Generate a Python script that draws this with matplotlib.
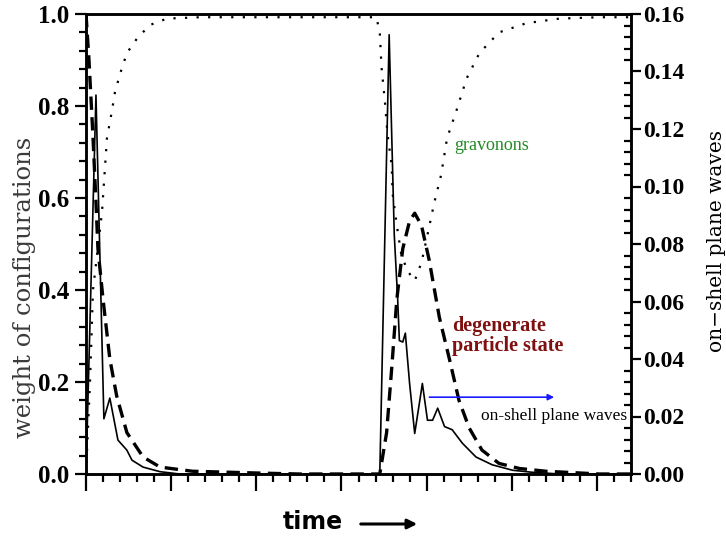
import numpy as np
import matplotlib
matplotlib.use("Agg")
import matplotlib.pyplot as plt
from matplotlib.ticker import MultipleLocator, FormatStrFormatter

# time axis (arbitrary units, one major tick per unit)
t_grav = [0.0, 0.047, 0.082, 0.188, 0.246, 0.305, 0.34, 0.40, 0.48, 0.60, 0.75, 0.95, 1.34,
          3.41, 3.45, 3.47, 3.51, 3.54, 3.59, 3.60, 3.65, 3.70, 3.77, 3.86, 3.94, 4.01, 4.09,
          4.17, 4.24, 4.35, 4.47, 4.62, 4.85, 5.17, 5.56, 6.03, 6.40]
gravonons = [0.0, 0.2, 0.4, 0.57, 0.73, 0.79, 0.83, 0.87, 0.915, 0.947, 0.976, 0.99, 0.993,
             0.993, 0.96, 0.885, 0.81, 0.74, 0.67, 0.61, 0.54, 0.48, 0.443, 0.42, 0.46, 0.52, 0.59,
             0.65, 0.73, 0.79, 0.86, 0.915, 0.96, 0.98, 0.99, 0.993, 0.993]

t_deg = [0.0, 0.035, 0.08, 0.115, 0.14, 0.20, 0.28, 0.36, 0.48, 0.67, 0.87, 1.25, 2.04, 2.5,
         3.45, 3.53, 3.59, 3.65, 3.72, 3.80, 3.86, 3.94, 4.03, 4.15, 4.27, 4.38, 4.50, 4.65,
         4.85, 5.09, 5.40, 6.03, 6.40]
degenerate = [1.0, 0.9, 0.74, 0.6, 0.49, 0.38, 0.25, 0.17, 0.09, 0.037, 0.015, 0.006, 0.002, 0.0,
              0.0, 0.09, 0.23, 0.38, 0.49, 0.55, 0.567, 0.54, 0.465, 0.34, 0.248, 0.16, 0.10, 0.052,
              0.023, 0.012, 0.006, 0.0, 0.0]

t_wave = [0.0, 0.117, 0.21, 0.28, 0.375, 0.48, 0.54, 0.67, 0.87, 1.1,
          3.45, 3.56, 3.62, 3.66, 3.68, 3.72, 3.75, 3.80, 3.86, 3.92, 3.95, 4.01, 4.07, 4.13,
          4.21, 4.30, 4.42, 4.58, 4.77, 5.01, 5.24, 5.56, 6.40]
plane_waves = [0.0, 0.1318, 0.0192, 0.0264, 0.0118, 0.0083, 0.0048, 0.0024, 0.0008, 0.0,
               0.0, 0.1528, 0.0832, 0.0608, 0.0464, 0.0459, 0.049, 0.0315, 0.0141, 0.0256, 0.0315,
               0.0187, 0.0187, 0.0229, 0.0165, 0.0154, 0.0107, 0.0059, 0.0032, 0.0013, 0.0006,
               0.0, 0.0]

W, H = 726, 541
fig = plt.figure(figsize=(W / 100, H / 100), dpi=100)
ax = fig.add_axes([86 / W, 67 / H, 545 / W, 460 / H])
ax2 = ax.twinx()

ax.plot(t_grav, gravonons, color='black', lw=1.6, linestyle=(0, (1, 4.2)))
ax.plot(t_deg, degenerate, color='black', lw=2.4, linestyle=(0, (4, 2.2)))
ax2.plot(t_wave, plane_waves, color='black', lw=1.2)

ax.set_xlim(0, 6.4)
ax.set_ylim(0, 1.0)
ax2.set_ylim(0, 0.16)

ax.xaxis.set_major_locator(MultipleLocator(1))
ax.xaxis.set_minor_locator(MultipleLocator(0.2))
ax.yaxis.set_major_locator(MultipleLocator(0.2))
ax.yaxis.set_minor_locator(MultipleLocator(0.04))
ax.yaxis.set_major_formatter(FormatStrFormatter('%.1f'))
ax2.yaxis.set_major_locator(MultipleLocator(0.02))
ax2.yaxis.set_minor_locator(MultipleLocator(0.004))
ax2.yaxis.set_major_formatter(FormatStrFormatter('%.2f'))

ax.tick_params(axis='x', which='major', direction='out', length=12, width=1.6, labelbottom=False)
ax.tick_params(axis='x', which='minor', direction='out', length=6, width=1.6)
ax.tick_params(axis='y', which='major', direction='out', length=8, width=1.6, pad=4, labelsize=18)
ax.tick_params(axis='y', which='minor', direction='out', length=5, width=1.6)
ax2.tick_params(axis='y', which='major', direction='out', length=7, width=1.6, pad=2, labelsize=17)
ax2.tick_params(axis='y', which='minor', direction='in', length=5, width=1.6)

for lbl in ax.get_yticklabels() + ax2.get_yticklabels():
    lbl.set_fontfamily('Liberation Serif')
    lbl.set_fontweight('bold')

for a in (ax, ax2):
    for s in a.spines.values():
        s.set_linewidth(1.8)

# axis labels
fig.text(25 / W, 1 - 287 / H, 'weight of configurations', rotation=90, ha='center', va='center',
         family='DejaVu Serif', fontsize=17.5, color='#3a3a3a')
fig.text(717 / W, 1 - 241 / H, 'on\u2212shell plane waves', rotation=90, ha='center', va='center',
         family='DejaVu Serif', fontsize=14.5, color='black')
fig.text(313 / W, 1 - 522 / H, 'time', ha='center', va='center', family='DejaVu Sans',
         fontweight='bold', fontsize=17)
fig.add_artist(matplotlib.patches.FancyArrowPatch((358 / W, 1 - 524 / H), (420 / W, 1 - 524 / H),
                                                  transform=fig.transFigure, arrowstyle='-|>',
                                                  mutation_scale=14, lw=2.2, color='black'))

# curve annotations
ax.text(4.33, 0.715, 'gravonons', color='#228B22', family='Liberation Serif', fontsize=13,
        ha='left', va='center')
ax.text(4.30, 0.30, 'degenerate\nparticle state', color='#7F1010', family='Liberation Serif',
        fontweight='bold', fontsize=14.5, ha='left', va='center', linespacing=0.95)
ax.text(4.64, 0.127, 'on-shell plane waves', color='black', family='Liberation Serif', fontsize=12.5,
        ha='left', va='center')
ax.annotate('', xy=(5.53, 0.167), xytext=(4.0, 0.167),
            arrowprops=dict(arrowstyle='-|>', color='#1a1aff', lw=1.2, mutation_scale=9))

fig.savefig('out.png', dpi=100)
